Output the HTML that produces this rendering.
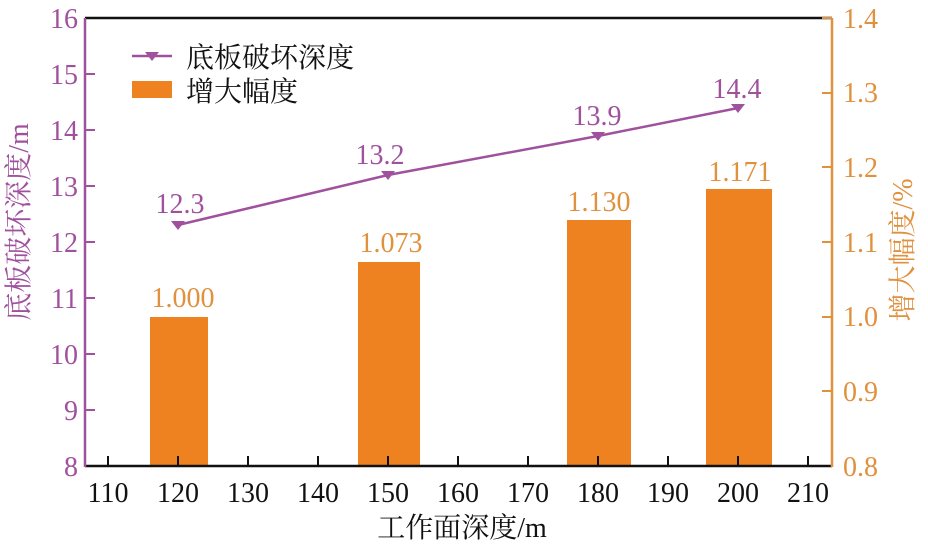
<!DOCTYPE html>
<html><head><meta charset="utf-8"><style>
body{margin:0;background:#fff}
text{font-family:"Liberation Serif","Times New Roman",Times,"Noto Serif CJK SC",serif}
</style></head><body>
<svg width="928" height="550" viewBox="0 0 928 550" xmlns="http://www.w3.org/2000/svg">
<rect width="928" height="550" fill="#fff"/>
<g fill="#ef8220">
<rect x="150" y="317" width="58" height="149"/>
<rect x="358" y="262" width="62" height="204"/>
<rect x="567" y="220" width="64" height="246"/>
<rect x="706" y="189" width="66" height="277"/>
</g>
<line x1="85" y1="18" x2="832" y2="18" stroke="#111" stroke-width="2.5"/>
<line x1="85" y1="466" x2="832" y2="466" stroke="#111" stroke-width="2.5"/>
<line x1="85" y1="18" x2="85" y2="467" stroke="#a0519e" stroke-width="2.5"/>
<line x1="832" y1="18" x2="832" y2="467" stroke="#e0913e" stroke-width="2.5"/>
<g stroke="#111" stroke-width="2">
<path d="M108 466v-10M178 466v-10M248 466v-10M318 466v-10M388 466v-10M458 466v-10M528 466v-10M598 466v-10M668 466v-10M738 466v-10M808 466v-10"/>
</g>
<g font-size="28" fill="#111" text-anchor="middle">
<text x="108" y="502">110</text><text x="178" y="502">120</text><text x="248" y="502">130</text><text x="318" y="502">140</text><text x="388" y="502">150</text><text x="458" y="502">160</text><text x="528" y="502">170</text><text x="598" y="502">180</text><text x="668" y="502">190</text><text x="738" y="502">200</text><text x="808" y="502">210</text>
</g>
<text x="462" y="537" font-size="28" fill="#111" text-anchor="middle">工作面深度/m</text>
<g stroke="#a0519e" stroke-width="2"><path d="M85 74h10M85 130h10M85 186h10M85 242h10M85 298h10M85 354h10M85 410h10"/></g>
<g font-size="28" fill="#a0519e" text-anchor="end">
<text x="78" y="28">16</text><text x="78" y="84">15</text><text x="78" y="140">14</text><text x="78" y="196">13</text><text x="78" y="252">12</text><text x="78" y="308">11</text><text x="78" y="364">10</text><text x="78" y="420">9</text><text x="78" y="476">8</text>
</g>
<text transform="translate(28,222) rotate(-90)" font-size="28" fill="#a0519e" text-anchor="middle">底板破坏深度/m</text>
<g stroke="#e0913e" stroke-width="2"><path d="M832 18h-10M832 93h-10M832 167h-10M832 242h-10M832 317h-10M832 391h-10"/></g>
<g font-size="28" fill="#e0913e" text-anchor="start">
<text x="843" y="28">1.4</text><text x="843" y="102">1.3</text><text x="843" y="177">1.2</text><text x="843" y="252">1.1</text><text x="843" y="326">1.0</text><text x="843" y="401">0.9</text><text x="843" y="476">0.8</text>
</g>
<text transform="translate(912,250) rotate(-90)" font-size="28" fill="#e0913e" text-anchor="middle">增大幅度/%</text>
<polyline points="178,225 388,175 598,136 738,108" fill="none" stroke="#a0519e" stroke-width="2.5"/>
<g fill="#a0519e">
<path d="M171 221h14l-7 9z"/><path d="M381 171h14l-7 9z"/><path d="M591 132h14l-7 9z"/><path d="M731 104h14l-7 9z"/>
</g>
<g font-size="28" fill="#a0519e" text-anchor="middle">
<text x="180" y="213">12.3</text><text x="380" y="164">13.2</text><text x="597" y="125">13.9</text><text x="737" y="98">14.4</text>
</g>
<g font-size="28" fill="#e0913e" text-anchor="middle">
<text x="183" y="307">1.000</text><text x="391" y="252">1.073</text><text x="599" y="211">1.130</text><text x="740" y="181">1.171</text>
</g>
<line x1="132" y1="56" x2="172" y2="56" stroke="#a0519e" stroke-width="2.5"/>
<path d="M145 52h14l-7 9z" fill="#a0519e"/>
<text x="186" y="67" font-size="28" fill="#111">底板破坏深度</text>
<rect x="132" y="81" width="40" height="17" fill="#ef8220"/>
<text x="186" y="101" font-size="28" fill="#111">增大幅度</text>
</svg>
</body></html>
